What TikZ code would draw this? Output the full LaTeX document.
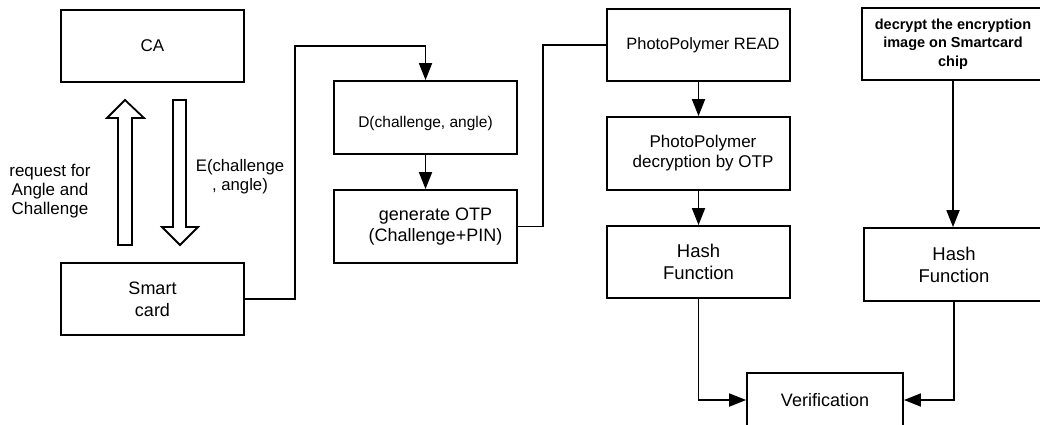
\documentclass[tikz,border=0pt]{standalone}
\usepackage{fontspec}
\setmainfont{Liberation Sans}
\usetikzlibrary{arrows.meta}
\newcommand{\fsz}[2]{\fontsize{#1}{#2}\selectfont}
\begin{document}
\begin{tikzpicture}[x=1pt,y=-1pt,
  box/.style={draw, line width=1.8pt, inner sep=0pt, align=center,
              minimum width=183pt, minimum height=72pt},
  flow/.style={line width=1.8pt, -{Triangle[length=17pt,width=13pt]}},
  link/.style={line width=1.8pt},
  hollow/.style={draw, line width=1.8pt, fill=white, line join=miter},
  note/.style={inner sep=0pt, align=center}]
\useasboundingbox (0,0) rectangle (1040,425);
\clip (0,0) rectangle (1040,425);

% left column: authority and card
\node[box, font=\fsz{17}{20}] (ca) at (152.5,46) {CA};
\node[box, font=\fsz{18}{22}] (sc) at (152.5,299) {Smart\\card};

% exchange between card and authority
\draw[hollow] (118,245) -- (118,118) -- (107,118) -- (125,100) -- (144,118)
              -- (132,118) -- (132,245) -- cycle;
\draw[hollow] (173,100) -- (186,100) -- (186,227) -- (198,227) -- (180,245)
              -- (162,227) -- (173,227) -- cycle;
\node[note, font=\fsz{17}{19}] (req) at (50,191) {request for\\Angle and\\Challenge};
\node[note, font=\fsz{16.7}{19}] (enc) at (240,176.5) {E(challenge\\, angle)};

% middle column: decryption and OTP generation
\node[box, minimum height=73pt, text height=19pt, text depth=0pt, font=\fsz{15.5}{19}] (dec) at (425.5,117.5) {D(challenge, angle)};
\node[box, minimum height=73pt, font=\fsz{18}{21}] (otp) at (425.5,226.5)
  {\hspace*{20pt}generate OTP\\\hspace*{20pt}(Challenge+PIN)};

% photopolymer branch
\node[box, font=\fsz{16.4}{20}] (read) at (698.5,45) {\hspace*{9pt}PhotoPolymer READ};
\node[box, minimum height=73pt, font=\fsz{17}{20}] (ppd) at (698.5,153.5)
  {\hspace*{9pt}PhotoPolymer\\\hspace*{9pt}decryption by OTP};
\node[box, font=\fsz{18.5}{22}] (h1) at (698.5,262) {Hash\\Function};

% chip branch
\node[box, minimum width=182pt, font=\bfseries\fsz{14.5}{18.5}] (img) at (953,44)
  {decrypt the encryption\\image on Smartcard\\chip};
\node[box, minimum width=180pt, minimum height=73pt, font=\fsz{18.5}{22}] (h2) at (954,264.5) {Hash\\Function};

% final check
\node[box, minimum width=156pt, minimum height=54pt, font=\fsz{18}{22}] (ver) at (825,400) {Verification};

% connectors
\coordinate (j1) at (295,46);
\coordinate (j2) at (543,45);
\draw[flow] (sc.east) -| (j1) -| (dec.north);
\draw[flow] (dec) -- (otp);
\draw[link] (otp.east) -| (j2) -- (read.west);
\draw[flow] (read) -- (ppd);
\draw[flow] (ppd) -- (h1);
\draw[flow] (h1.south) |- (ver.west);
\draw[flow] (img.south) -- (img.south |- h2.north);
\draw[flow] (h2.south) |- (ver.east);
\end{tikzpicture}
\end{document}
